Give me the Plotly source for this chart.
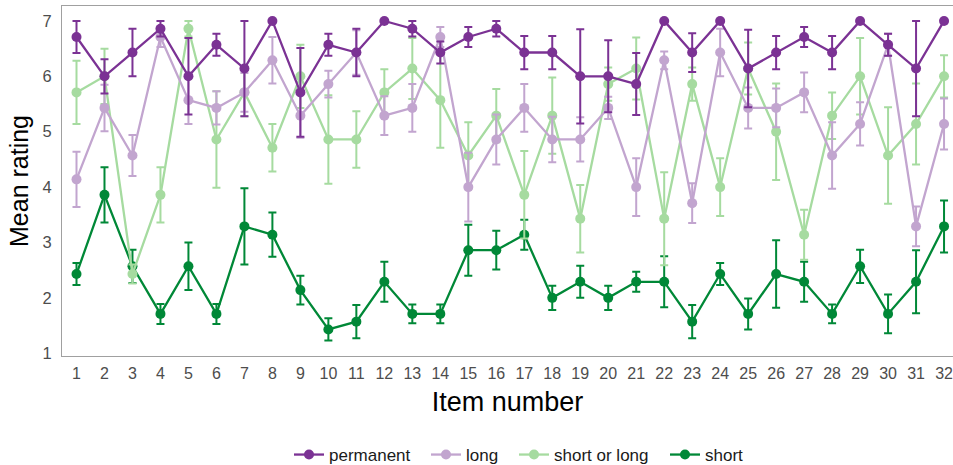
import plotly.graph_objects as go

items = list(range(1, 33))

permanent = [6.71, 6.00, 6.43, 6.86, 6.00, 6.57, 6.14, 7.00, 5.71, 6.57, 6.43, 7.00, 6.86, 6.43, 6.71, 6.86,
             6.43, 6.43, 6.00, 6.00, 5.86, 7.00, 6.43, 7.00, 6.14, 6.43, 6.71, 6.43, 7.00, 6.57, 6.14, 7.00]
permanent_err = [0.29, 0.31, 0.43, 0.14, 0.69, 0.20, 0.86, 0.00, 0.80, 0.20, 0.43, 0.00, 0.14, 0.20, 0.18, 0.14,
                 0.30, 0.30, 0.85, 0.65, 0.56, 0.00, 0.35, 0.00, 0.70, 0.30, 0.18, 0.30, 0.00, 0.20, 0.86, 0.00]

long_ = [4.14, 5.43, 4.57, 6.71, 5.57, 5.43, 5.71, 6.29, 5.29, 5.86, 6.43, 5.29, 5.43, 6.71, 4.00, 4.86,
         5.43, 4.86, 4.86, 5.43, 4.00, 6.29, 3.71, 6.43, 5.43, 5.43, 5.71, 4.57, 5.14, 6.57, 3.29, 5.14]
long_err = [0.50, 0.42, 0.37, 0.18, 0.43, 0.30, 0.35, 0.42, 0.40, 0.24, 0.40, 0.35, 0.43, 0.18, 0.62, 0.45,
            0.43, 0.41, 0.40, 0.20, 0.52, 0.16, 0.36, 0.43, 0.37, 0.35, 0.36, 0.60, 0.39, 0.20, 0.36, 0.46]

short_or_long = [5.71, 6.00, 2.43, 3.86, 6.86, 4.86, 5.71, 4.71, 6.00, 4.86, 4.86, 5.71, 6.14, 5.57, 4.57, 5.29,
                 3.86, 5.29, 3.43, 5.86, 6.14, 3.43, 5.86, 4.00, 6.14, 5.00, 3.14, 5.29, 6.00, 4.57, 5.14, 6.00]
short_or_long_err = [0.57, 0.50, 0.17, 0.50, 0.14, 0.87, 0.43, 0.43, 0.57, 0.80, 0.51, 0.42, 0.55, 0.86, 0.60, 0.48,
                     0.79, 0.69, 0.61, 0.30, 0.56, 0.84, 0.30, 0.52, 0.47, 0.87, 0.45, 0.42, 0.69, 0.87, 0.73, 0.38]

short = [2.43, 3.86, 2.57, 1.71, 2.57, 1.71, 3.29, 3.14, 2.14, 1.43, 1.57, 2.29, 1.71, 1.71, 2.86, 2.86,
         3.14, 2.00, 2.29, 2.00, 2.29, 2.29, 1.57, 2.43, 1.71, 2.43, 2.29, 1.71, 2.57, 1.71, 2.29, 3.29]
short_err = [0.20, 0.50, 0.30, 0.18, 0.43, 0.18, 0.69, 0.40, 0.26, 0.20, 0.30, 0.36, 0.17, 0.17, 0.46, 0.35,
             0.27, 0.22, 0.29, 0.22, 0.18, 0.46, 0.30, 0.20, 0.28, 0.61, 0.36, 0.17, 0.30, 0.35, 0.57, 0.47]

# (name, values, errors, colour, legend id, legend x position in px)
series = [
    ("short", short, short_err, "#008837", "legend4", 665),
    ("short or long", short_or_long, short_or_long_err, "#a6dba0", "legend3", 514),
    ("long", long_, long_err, "#c2a5cf", "legend2", 426),
    ("permanent", permanent, permanent_err, "#7b3294", "legend", 289),
]

W, H = 953, 465

fig = go.Figure()
legends = {}
for name, vals, errs, color, lg, lx in series:
    fig.add_trace(go.Scatter(
        x=items, y=vals, name=name, mode="lines+markers",
        line=dict(color=color, width=2.3),
        marker=dict(color=color, size=10),
        error_y=dict(type="data", array=errs, visible=True, color=color, thickness=2, width=4),
        legend=lg,
    ))
    legends[lg] = dict(orientation="h", xref="container", yref="container",
                       x=lx / W, xanchor="left", y=1 - 455 / H, yanchor="middle",
                       font=dict(size=17, color="#1a1a1a"), bgcolor="rgba(0,0,0,0)")

fig.update_layout(
    width=W, height=H,
    margin=dict(l=62, r=0, t=6, b=109, autoexpand=False),
    paper_bgcolor="white", plot_bgcolor="white",
    font=dict(family="Liberation Sans, Arial, sans-serif", color="#000000"),
    showlegend=True,
    **legends,
)
fig.update_xaxes(
    range=[0.4818, 32.32], tickmode="array", tickvals=items, ticktext=[str(i) for i in items],
    showgrid=False, zeroline=False, showline=True, linecolor="#a0a0a0", linewidth=1.2, mirror=True,
    ticks="", tickfont=dict(size=16, color="#4d4d4d"), ticklabelstandoff=3, automargin=False,
    ticklabeloverflow="allow",
    title=dict(text="Item number", font=dict(size=27, color="#000000"), standoff=10),
)
fig.update_yaxes(
    range=[0.95, 7.27], tickvals=[1, 2, 3, 4, 5, 6, 7],
    showgrid=False, zeroline=False, showline=True, linecolor="#a0a0a0", linewidth=1.2, mirror=False,
    ticks="", tickfont=dict(size=16.5, color="#4d4d4d"), ticklabelstandoff=6, automargin=False,
    title=dict(text="Mean rating", font=dict(size=25, color="#000000"), standoff=6),
)

fig.write_html("out.html", config={"displayModeBar": False},
               post_script="document.body.style.margin='0';")
